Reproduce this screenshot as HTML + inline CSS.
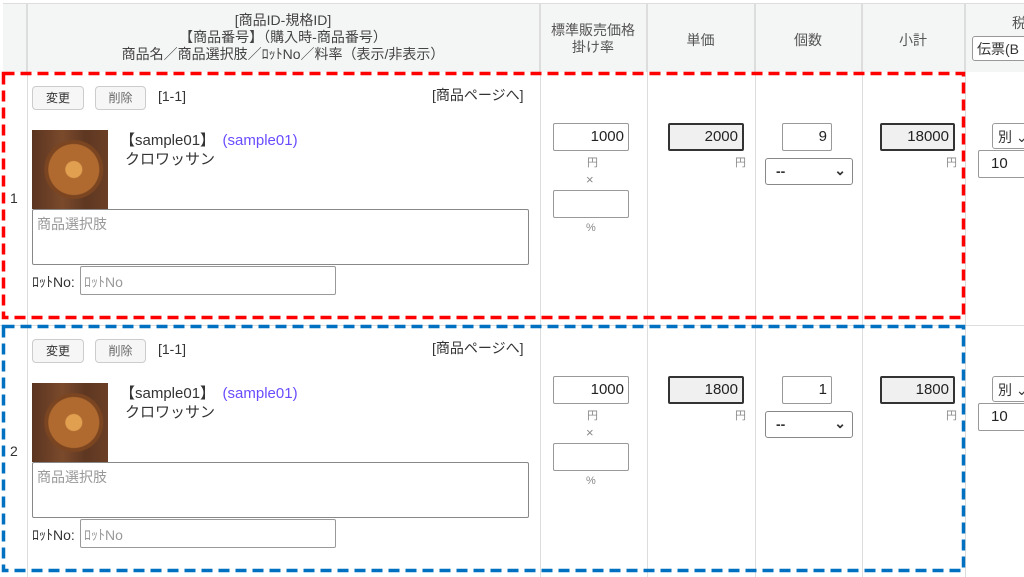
<!DOCTYPE html>
<html><head><meta charset="utf-8"><style>
*{box-sizing:border-box;margin:0;padding:0}
body{width:1024px;height:577px;overflow:hidden;background:#fff;position:relative;font-family:"Liberation Sans","Noto Sans CJK JP",sans-serif;font-size:14px;color:#333}
.a{position:absolute;white-space:nowrap}
.hdr{position:absolute;top:3px;height:69px;background:#f4f5f5;border-right:1px solid #ddd;border-top:1px solid #ddd;text-align:center;font-size:14px;color:#444;line-height:17px;white-space:nowrap}
.vl{position:absolute;top:3px;width:1px;height:574px;background:#ddd}
.btn{position:absolute;height:24px;border:1px solid #ccc;border-radius:4px;background:#f6f6f6;font-size:12px;text-align:center;line-height:22px;color:#333}
.inp{position:absolute;height:28px;border:1px solid #999;border-radius:2px;background:#fff;text-align:right;padding-right:4px;line-height:26px;font-size:15px;color:#222}
.ro{background:#f0f0f0;border:2px solid #333;line-height:24px}
.sm{position:absolute;font-size:11px;color:#888;white-space:nowrap}
.img{position:absolute;width:76px;height:79px;background:radial-gradient(circle at 55% 50%,#e0a050 0 8px,#b06a30 9px 25px,#7a4520 26px 29px,transparent 30px),linear-gradient(90deg,#5a3420,#7b4a2c 40%,#5e3722 70%,#6b3f25)}
</style></head><body>
<div class="hdr" style="left:3px;width:24px"></div>
<div class="hdr" style="left:27px;width:513px;padding-top:8px">[商品ID-規格ID]<br>【商品番号】（購入時-商品番号）<br>商品名／商品選択肢／ﾛｯﾄNo／料率（表示/非表示）</div>
<div class="hdr" style="left:540px;width:107px;padding-top:18px;color:#555">標準販売価格<br>掛け率</div>
<div class="hdr" style="left:647px;width:108px;padding-top:28px;color:#555">単価</div>
<div class="hdr" style="left:755px;width:107px;padding-top:28px;color:#555">個数</div>
<div class="hdr" style="left:862px;width:103px;padding-top:28px;color:#555">小計</div>
<div class="hdr" style="left:965px;width:60px;padding-top:11px;text-align:left;padding-left:47px;color:#555">税</div>
<div class="a" style="left:972px;top:36px;width:60px;height:25px;border:1px solid #999;border-radius:3px;background:#fff;font-size:14px;padding:2px 4px">伝票(B</div>
<div class="vl" style="left:27px"></div><div class="vl" style="left:540px"></div><div class="vl" style="left:647px"></div><div class="vl" style="left:755px"></div><div class="vl" style="left:862px"></div><div class="vl" style="left:965px"></div>
<div class="a" style="left:0;top:325px;width:1024px;height:1px;background:#ddd"></div>

<!-- row 1 -->
<div class="a" style="left:0;top:0">
<div class="a" style="left:10px;top:190px">1</div>
<div class="btn" style="left:32px;top:86px;width:52px">変更</div>
<div class="btn" style="left:95px;top:86px;width:51px;color:#666">削除</div>
<div class="a" style="left:158px;top:88px">[1-1]</div>
<div class="a" style="left:432px;top:85px">[商品ページへ]</div>
<div class="img" style="left:32px;top:130px"></div>
<div class="a" style="left:120px;top:129px;font-size:15px">【sample01】　<span style="color:#6a4cff">(sample01)</span></div>
<div class="a" style="left:125px;top:148px;font-size:15px">クロワッサン</div>
<div class="a" style="left:32px;top:209px;width:497px;height:56px;border:1px solid #888;border-radius:2px;color:#999;padding:4px;font-size:14px">商品選択肢</div>
<div class="a" style="left:32px;top:272px">ﾛｯﾄNo:</div>
<div class="a" style="left:80px;top:266px;width:256px;height:29px;border:1px solid #999;border-radius:2px;color:#999;padding:5px 3px">ﾛｯﾄNo</div>
<div class="inp" style="left:553px;top:123px;width:76px">1000</div>
<div class="sm" style="left:587px;top:154px">円</div>
<div class="sm" style="left:586px;top:172px;font-size:13px">×</div>
<div class="inp" style="left:553px;top:190px;width:76px"></div>
<div class="sm" style="left:586px;top:222px">%</div>
<div class="inp ro" style="left:668px;top:123px;width:76px">2000</div>
<div class="sm" style="left:735px;top:154px">円</div>
<div class="inp" style="left:782px;top:123px;width:50px">9</div>
<div class="a" style="left:765px;top:158px;width:88px;height:27px;border:1px solid #888;border-radius:3px;padding:4px 10px;font-weight:bold">--<span style="position:absolute;right:6px;top:3px">⌄</span></div>
<div class="inp ro" style="left:880px;top:123px;width:75px">18000</div>
<div class="sm" style="left:946px;top:154px">円</div>
<div class="a" style="left:992px;top:123px;width:40px;height:26px;border:1px solid #999;border-radius:3px;padding:3px 5px;font-size:14px">別 ⌄</div>
<div class="inp" style="left:978px;top:150px;width:50px;text-align:left;padding-left:12px">10</div>
</div>

<!-- row 2 -->
<div class="a" style="left:0;top:253px">
<div class="a" style="left:10px;top:190px">2</div>
<div class="btn" style="left:32px;top:86px;width:52px">変更</div>
<div class="btn" style="left:95px;top:86px;width:51px;color:#666">削除</div>
<div class="a" style="left:158px;top:88px">[1-1]</div>
<div class="a" style="left:432px;top:85px">[商品ページへ]</div>
<div class="img" style="left:32px;top:130px"></div>
<div class="a" style="left:120px;top:129px;font-size:15px">【sample01】　<span style="color:#6a4cff">(sample01)</span></div>
<div class="a" style="left:125px;top:148px;font-size:15px">クロワッサン</div>
<div class="a" style="left:32px;top:209px;width:497px;height:56px;border:1px solid #888;border-radius:2px;color:#999;padding:4px;font-size:14px">商品選択肢</div>
<div class="a" style="left:32px;top:272px">ﾛｯﾄNo:</div>
<div class="a" style="left:80px;top:266px;width:256px;height:29px;border:1px solid #999;border-radius:2px;color:#999;padding:5px 3px">ﾛｯﾄNo</div>
<div class="inp" style="left:553px;top:123px;width:76px">1000</div>
<div class="sm" style="left:587px;top:154px">円</div>
<div class="sm" style="left:586px;top:172px;font-size:13px">×</div>
<div class="inp" style="left:553px;top:190px;width:76px"></div>
<div class="sm" style="left:586px;top:222px">%</div>
<div class="inp ro" style="left:668px;top:123px;width:76px">1800</div>
<div class="sm" style="left:735px;top:154px">円</div>
<div class="inp" style="left:782px;top:123px;width:50px">1</div>
<div class="a" style="left:765px;top:158px;width:88px;height:27px;border:1px solid #888;border-radius:3px;padding:4px 10px;font-weight:bold">--<span style="position:absolute;right:6px;top:3px">⌄</span></div>
<div class="inp ro" style="left:880px;top:123px;width:75px">1800</div>
<div class="sm" style="left:946px;top:154px">円</div>
<div class="a" style="left:992px;top:123px;width:40px;height:26px;border:1px solid #999;border-radius:3px;padding:3px 5px;font-size:14px">別 ⌄</div>
<div class="inp" style="left:978px;top:150px;width:50px;text-align:left;padding-left:12px">10</div>
</div>

<svg class="a" style="left:0;top:0" width="1024" height="577">
<rect x="3.5" y="73.5" width="960" height="244" fill="none" stroke="#ff0000" stroke-width="3.5" stroke-dasharray="11 6"/>
<rect x="3.5" y="326.5" width="960" height="244" fill="none" stroke="#0070c0" stroke-width="3.5" stroke-dasharray="11 6"/>
</svg>
</body></html>
